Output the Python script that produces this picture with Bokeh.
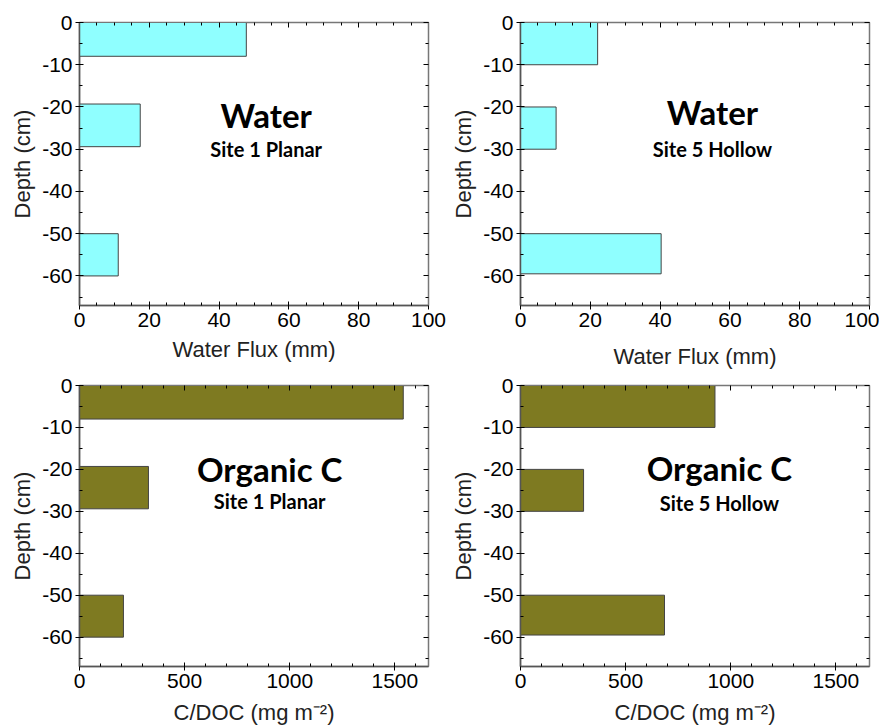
from bokeh.plotting import figure
from bokeh.layouts import gridplot
from bokeh.models import LinearAxis, FixedTicker, CustomJSTickFormatter, Range1d, Label
from bokeh.embed import file_html
from bokeh.resources import INLINE

# Depth intervals (cm)
site1_top = [0, -19.3, -50]
site1_bottom = [-8, -29.4, -60]
site5_top = [0, -20, -50]
site5_bottom = [-10, -30, -59.5]

# Water flux (mm)
water_site1 = [47.8, 17.4, 11.1]
water_site5 = [22.1, 10.2, 40.3]

# Organic C (mg m-2)
doc_site1 = [1540, 328, 209]
doc_site5 = [925, 300, 685]

y_ticks = [0, -10, -20, -30, -40, -50, -60]
y_minor = [-5, -15, -25, -35, -45, -55, -65]
water_ticks = [0, 20, 40, 60, 80, 100]
doc_ticks = [0, 500, 1000, 1500]

CYAN = "#8FFFFF"
OLIVE = "#7E7A21"
FONT = "Liberation Sans"
TFONT = "Lato"


def panel(vals, tops, bottoms, color, xmax, xticks, minor_x, xlabel, title, subtitle,
          bl, br, bt, bb, fh, label_standoff, tx, ty, sy):
    p = figure(frame_width=349, frame_height=fh, output_backend="svg", toolbar_location=None,
               x_range=Range1d(0, xmax), y_range=Range1d(-67, 0),
               min_border_left=bl, min_border_right=br, min_border_top=bt, min_border_bottom=bb,
               x_axis_label=xlabel, y_axis_label="Depth (cm)")
    p.hbar(y=[(a + b) / 2 for a, b in zip(tops, bottoms)],
           height=[a - b for a, b in zip(tops, bottoms)],
           left=0, right=vals, fill_color=color, line_color="#444444", line_width=1)
    p.xgrid.visible = False
    p.ygrid.visible = False
    p.outline_line_color = "#777777"
    p.outline_line_width = 1.5
    p.background_fill_color = "white"
    p.border_fill_color = "white"

    fmt = CustomJSTickFormatter(code="return tick.toString()")
    p.xaxis.ticker = FixedTicker(ticks=xticks, minor_ticks=minor_x)
    p.yaxis.ticker = FixedTicker(ticks=y_ticks, minor_ticks=y_minor)
    p.xaxis.formatter = fmt
    p.yaxis.formatter = fmt
    for ax in (p.xaxis[0], p.yaxis[0]):
        ax.axis_line_color = "#555555"
        ax.axis_line_width = 1.5
        ax.major_tick_in = 4
        ax.major_tick_out = 4
        ax.minor_tick_in = 3
        ax.minor_tick_out = 0
        ax.major_tick_line_color = "black"
        ax.minor_tick_line_color = "black"
        ax.major_label_text_font = FONT
        ax.major_label_text_font_size = "21px"
        ax.major_label_text_color = "black"
        ax.axis_label_text_font = FONT
        ax.axis_label_text_font_size = "22px"
        ax.axis_label_text_font_style = "normal"
        ax.axis_label_text_color = "#222222"
        ax.major_label_standoff = 3
    p.xaxis.axis_label_standoff = label_standoff
    p.yaxis.axis_label_standoff = 4

    blank = CustomJSTickFormatter(code="return ''")
    top = LinearAxis(ticker=FixedTicker(ticks=xticks, minor_ticks=minor_x), formatter=blank)
    right = LinearAxis(ticker=FixedTicker(ticks=y_ticks, minor_ticks=y_minor), formatter=blank)
    for ax in (top, right):
        ax.axis_line_color = "#777777"
        ax.major_tick_in = 5
        ax.major_tick_out = 0
        ax.minor_tick_in = 3
        ax.minor_tick_out = 0
        ax.major_label_standoff = 0
        ax.major_label_text_font_size = "1px"
    p.add_layout(top, "above")
    p.add_layout(right, "right")

    p.add_layout(Label(x=xmax * tx, y=ty, text=title, text_font=TFONT, text_font_style="bold",
                       text_font_size="33px", text_align="center", text_baseline="middle",
                       text_color="black"))
    p.add_layout(Label(x=xmax * tx, y=sy, text=subtitle, text_font=TFONT,
                       text_font_style="bold", text_font_size="20px", text_align="center",
                       text_baseline="middle", text_color="black"))
    return p


water_minor = [v for v in range(0, 101, 5) if v % 20 != 0]
doc_minor = [v for v in range(0, 1700, 100) if v % 500 != 0]

p1 = panel(water_site1, site1_top, site1_bottom, CYAN, 100, water_ticks, water_minor,
           "Water Flux (mm)", "Water", "Site 1 Planar", 79, 20, 22, 66, 283, 7,
           0.535, -22.0, -30.0)
p2 = panel(water_site5, site5_top, site5_bottom, CYAN, 100, water_ticks, water_minor,
           "Water Flux (mm)", "Water", "Site 5 Hollow", 71, 10, 22, 66, 283, 14,
           0.55, -21.3, -30.0)
p3 = panel(doc_site1, site1_top, site1_bottom, OLIVE, 1660, doc_ticks, doc_minor,
           "C/DOC (mg m\u207b\u00b2)", "Organic C", "Site 1 Planar", 79, 20, 14, 60, 281, 9,
           0.545, -19.8, -27.5)
p4 = panel(doc_site5, site5_top, site5_bottom, OLIVE, 1660, doc_ticks, doc_minor,
           "C/DOC (mg m\u207b\u00b2)", "Organic C", "Site 5 Hollow", 71, 10, 14, 60, 281, 9,
           0.57, -19.6, -28.0)

grid = gridplot([[p1, p2], [p3, p4]], toolbar_location=None)
open("out.html", "w").write(file_html(grid, INLINE))
